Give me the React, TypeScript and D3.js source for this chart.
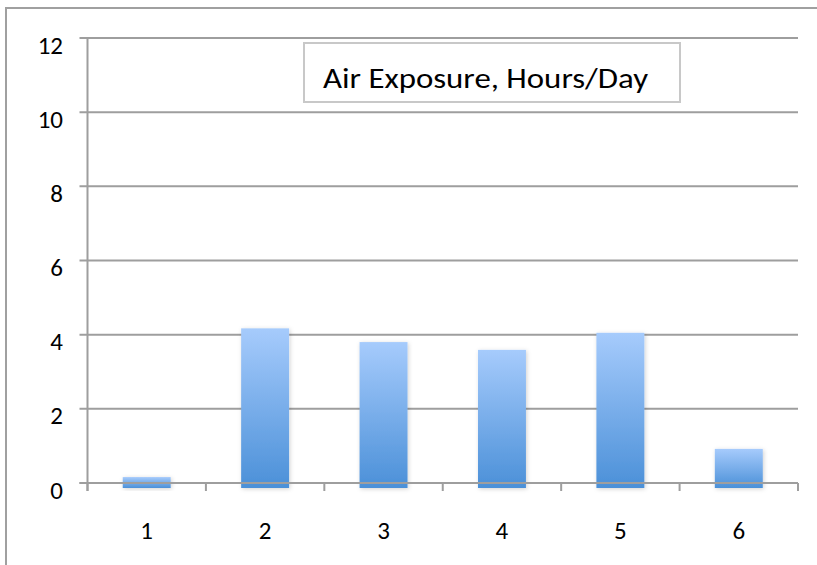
import React, { useEffect, useRef } from 'react';
import * as d3 from 'd3';

const categories = ['1', '2', '3', '4', '5', '6'];
const airExposure = [0.16, 4.17, 3.8, 3.59, 4.05, 0.92];
const yTicks = [0, 2, 4, 6, 8, 10, 12];
const seriesName = 'Air Exposure, Hours/Day';

const W = 817;
const H = 565;
const FONT = 'Carlito, Calibri, "Open Sans", "Noto Sans", sans-serif';

const App: React.FC = () => {
  const svgRef = useRef<SVGSVGElement>(null);

  useEffect(() => {
    if (!svgRef.current) return;
    const svg = d3.select(svgRef.current);
    svg.selectAll('*').remove();

    const left = 87.5;
    const right = 798;
    const top = 38;
    const bottom = 483;

    const x = d3.scaleBand<string>().domain(categories).range([left, right]).paddingInner(0.595).paddingOuter(0.2975);
    const y = d3.scaleLinear().domain([0, 12]).range([bottom, top]);

    const defs = svg.append('defs');
    const grad = defs
      .append('linearGradient')
      .attr('id', 'barGrad')
      .attr('x1', 0)
      .attr('y1', 0)
      .attr('x2', 0)
      .attr('y2', 1);
    grad.append('stop').attr('offset', '0%').attr('stop-color', '#a6cbfc');
    grad.append('stop').attr('offset', '100%').attr('stop-color', '#4b90d8');

    const shadow = defs.append('filter').attr('id', 'shadow').attr('x', '-20%').attr('y', '-20%').attr('width', '140%').attr('height', '140%');
    shadow.append('feDropShadow').attr('dx', 1).attr('dy', 1).attr('stdDeviation', 2).attr('flood-color', '#000').attr('flood-opacity', 0.18);

    // outer frame (runs off the right and bottom edges)
    svg
      .append('rect')
      .attr('x', 6)
      .attr('y', 8)
      .attr('width', W + 20)
      .attr('height', H + 20)
      .attr('fill', 'white')
      .attr('stroke', '#a0a0a0')
      .attr('stroke-width', 2);

    // gridlines
    yTicks.forEach((t) => {
      svg
        .append('line')
        .attr('x1', left - 8)
        .attr('x2', right)
        .attr('y1', y(t))
        .attr('y2', y(t))
        .attr('stroke', '#9e9e9e')
        .attr('stroke-width', 2);
    });

    // y axis
    svg
      .append('line')
      .attr('x1', left)
      .attr('x2', left)
      .attr('y1', top)
      .attr('y2', bottom + 8)
      .attr('stroke', '#9e9e9e')
      .attr('stroke-width', 2);

    // x ticks between categories
    const step = x.step();
    d3.range(categories.length + 1).forEach((i) => {
      const xx = left + i * step;
      svg
        .append('line')
        .attr('x1', xx)
        .attr('x2', xx)
        .attr('y1', bottom)
        .attr('y2', bottom + 8)
        .attr('stroke', '#9e9e9e')
        .attr('stroke-width', 2);
    });

    // bars
    categories.forEach((c, i) => {
      svg
        .append('rect')
        .attr('x', x(c)!)
        .attr('y', y(airExposure[i]))
        .attr('width', x.bandwidth())
        .attr('height', bottom + 5 - y(airExposure[i]))
        .attr('fill', 'url(#barGrad)')
        .attr('filter', 'url(#shadow)');
    });

    // zero line over bars
    svg
      .append('line')
      .attr('x1', left - 8)
      .attr('x2', right)
      .attr('y1', bottom)
      .attr('y2', bottom)
      .attr('stroke', '#9e9e9e')
      .attr('stroke-width', 2);

    // y labels (Excel draws them hanging just below each gridline)
    yTicks.forEach((t) => {
      svg
        .append('text')
        .attr('x', 63)
        .attr('y', y(t) + 15.5)
        .attr('text-anchor', 'end')
        .attr('font-family', FONT)
        .attr('font-size', 25)
        .attr('fill', '#000')
        .text(String(t));
    });

    // x labels
    categories.forEach((c) => {
      svg
        .append('text')
        .attr('x', x(c)! + x.bandwidth() / 2)
        .attr('y', 539)
        .attr('text-anchor', 'middle')
        .attr('font-family', FONT)
        .attr('font-size', 25)
        .attr('fill', '#000')
        .text(c);
    });

    // legend box
    svg
      .append('rect')
      .attr('x', 304)
      .attr('y', 43)
      .attr('width', 376)
      .attr('height', 59)
      .attr('fill', 'white')
      .attr('stroke', '#c8c8c8')
      .attr('stroke-width', 2);
    svg
      .append('text')
      .attr('x', 323)
      .attr('y', 88)
      .attr('font-family', FONT)
      .attr('font-size', 28)
      .attr('fill', '#000')
      .attr('textLength', 325)
      .attr('lengthAdjust', 'spacingAndGlyphs')
      .text(seriesName);
  }, []);

  return <svg ref={svgRef} width={W} height={H} style={{ position: 'absolute', left: 0, top: 0 }} />;
};

export default App;
